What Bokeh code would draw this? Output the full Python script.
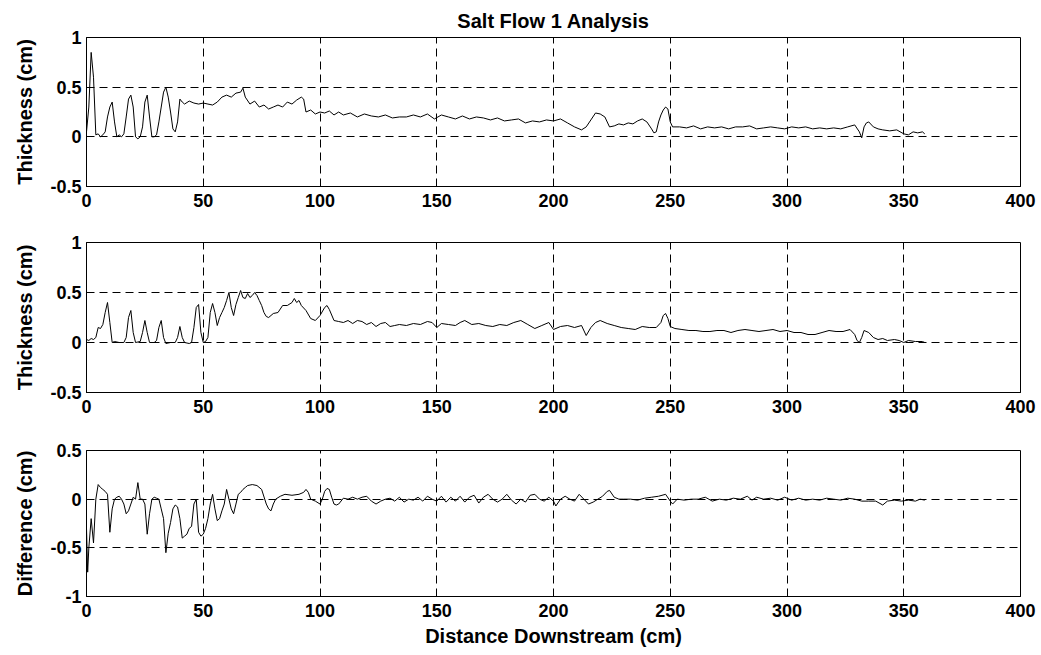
from bokeh.plotting import figure
from bokeh.models import Range1d, FixedTicker, CustomJSTickFormatter
from bokeh.layouts import column
from bokeh.embed import file_html
from bokeh.resources import INLINE

# ---------------- data ----------------
x_ticks = [0, 50, 100, 150, 200, 250, 300, 350, 400]
thick_ticks = [-0.5, 0, 0.5, 1]
diff_ticks = [-1, -0.5, 0, 0.5]

# top panel: thickness (cm) vs distance downstream (cm)
thick1_pts = [
    (0, 0.05), (1, 0.3), (2, 0.85), (3, 0.6), (4, 0.02), (5, 0.03), (6, 0.0), (7, 0.02), (8, 0.05),
    (9, 0.2), (10, 0.3), (11, 0.35), (12, 0.15), (13, 0.0), (14, 0.02), (15, 0.0), (16, 0.03),
    (17, 0.2), (18, 0.38), (19, 0.42), (20, 0.3), (21, 0.0), (22, -0.02), (23, 0.0), (24, 0.1),
    (25, 0.35), (26, 0.42), (27, 0.2), (28, 0.0), (29, 0.0), (30, 0.02), (31, 0.15), (32, 0.3),
    (33, 0.45), (34, 0.5), (35, 0.4), (36, 0.25), (37, 0.08), (38, 0.05), (39, 0.15), (40, 0.38),
    (41, 0.35), (42, 0.33), (44, 0.36), (46, 0.34), (48, 0.33), (50, 0.34), (52, 0.33), (54, 0.32),
    (56, 0.35), (58, 0.4), (60, 0.42), (62, 0.4), (64, 0.44), (66, 0.45), (67, 0.49), (68, 0.4),
    (70, 0.33), (72, 0.36), (74, 0.3), (76, 0.32), (78, 0.28), (80, 0.3), (82, 0.32), (84, 0.3),
    (86, 0.35), (88, 0.33), (90, 0.37), (92, 0.4), (93, 0.38), (94, 0.25), (96, 0.27), (98, 0.23),
    (100, 0.25), (102, 0.24), (104, 0.26), (106, 0.22), (108, 0.25), (110, 0.22), (113, 0.24),
    (116, 0.2), (119, 0.23), (122, 0.21), (125, 0.2), (128, 0.22), (131, 0.19), (134, 0.2),
    (137, 0.2), (140, 0.22), (143, 0.2), (146, 0.23), (149, 0.18), (152, 0.22), (155, 0.2),
    (158, 0.18), (161, 0.21), (164, 0.18), (167, 0.2), (170, 0.19), (173, 0.17), (176, 0.19),
    (179, 0.16), (182, 0.17), (185, 0.18), (188, 0.14), (191, 0.16), (194, 0.15), (197, 0.17),
    (200, 0.16), (203, 0.18), (206, 0.14), (209, 0.1), (212, 0.07), (214, 0.1), (216, 0.17),
    (218, 0.24), (220, 0.23), (222, 0.2), (224, 0.1), (226, 0.11), (228, 0.13), (230, 0.12),
    (232, 0.14), (234, 0.13), (236, 0.16), (238, 0.18), (240, 0.15), (242, 0.08), (243, 0.04),
    (244, 0.05), (245, 0.15), (246, 0.22), (247, 0.27), (248, 0.3), (249, 0.28), (250, 0.15),
    (251, 0.1), (254, 0.1), (257, 0.09), (260, 0.11), (263, 0.08), (266, 0.1), (269, 0.09),
    (272, 0.1), (275, 0.08), (278, 0.1), (281, 0.1), (284, 0.11), (287, 0.08), (290, 0.09),
    (293, 0.1), (296, 0.09), (299, 0.08), (302, 0.1), (305, 0.09), (308, 0.1), (311, 0.08),
    (314, 0.09), (317, 0.08), (320, 0.09), (323, 0.08), (326, 0.1), (329, 0.12), (331, 0.05),
    (332, -0.01), (333, 0.1), (334, 0.14), (335, 0.15), (337, 0.1), (339, 0.08), (341, 0.07),
    (344, 0.06), (347, 0.07), (350, 0.03), (352, 0.02), (354, 0.05), (356, 0.04), (358, 0.05),
    (359, 0.03),
]

# middle panel: thickness (cm)
thick2_pts = [
    (0, 0.03), (1, 0.02), (2, 0.04), (3, 0.03), (4, 0.05), (5, 0.15), (6, 0.14), (7, 0.18), (8, 0.3),
    (9, 0.4), (10, 0.2), (11, 0.0), (12, 0.01), (14, 0.0), (16, 0.0), (17, 0.05), (18, 0.25),
    (19, 0.32), (20, 0.1), (21, 0.0), (23, 0.01), (24, 0.1), (25, 0.22), (26, 0.1), (27, 0.0),
    (29, 0.0), (30, 0.02), (31, 0.15), (32, 0.22), (33, 0.05), (34, -0.01), (36, 0.0), (38, 0.0),
    (39, 0.05), (40, 0.16), (41, 0.05), (42, 0.0), (44, -0.01), (45, 0.0), (46, 0.15), (47, 0.35),
    (48, 0.38), (49, 0.1), (50, 0.0), (51, 0.01), (52, 0.05), (53, 0.3), (54, 0.39), (55, 0.3),
    (56, 0.17), (57, 0.25), (58, 0.3), (59, 0.35), (60, 0.42), (61, 0.5), (62, 0.35), (63, 0.27),
    (64, 0.38), (65, 0.45), (66, 0.52), (67, 0.45), (68, 0.44), (69, 0.49), (70, 0.45), (71, 0.47),
    (72, 0.5), (73, 0.47), (74, 0.42), (75, 0.37), (76, 0.3), (77, 0.26), (78, 0.25), (80, 0.29),
    (82, 0.3), (84, 0.37), (86, 0.37), (88, 0.4), (89, 0.44), (90, 0.4), (91, 0.42), (92, 0.37),
    (94, 0.32), (96, 0.24), (98, 0.22), (100, 0.27), (102, 0.35), (103, 0.37), (104, 0.33),
    (106, 0.22), (108, 0.21), (110, 0.2), (112, 0.22), (114, 0.19), (116, 0.22), (118, 0.21),
    (120, 0.18), (122, 0.2), (124, 0.16), (126, 0.19), (128, 0.2), (130, 0.16), (132, 0.17),
    (134, 0.18), (137, 0.17), (140, 0.19), (143, 0.18), (146, 0.21), (148, 0.2), (150, 0.15),
    (152, 0.19), (155, 0.18), (158, 0.17), (160, 0.2), (162, 0.22), (165, 0.18), (168, 0.19),
    (171, 0.17), (174, 0.16), (177, 0.18), (180, 0.17), (183, 0.2), (186, 0.22), (189, 0.18),
    (192, 0.14), (195, 0.17), (198, 0.2), (200, 0.13), (203, 0.16), (206, 0.17), (209, 0.15),
    (212, 0.17), (214, 0.07), (216, 0.15), (218, 0.2), (220, 0.22), (223, 0.19), (226, 0.17),
    (229, 0.15), (232, 0.14), (235, 0.13), (238, 0.16), (241, 0.15), (244, 0.15), (246, 0.2),
    (247, 0.27), (248, 0.29), (249, 0.24), (250, 0.16), (252, 0.14), (255, 0.13), (258, 0.12),
    (261, 0.12), (264, 0.11), (267, 0.11), (270, 0.12), (273, 0.12), (276, 0.1), (279, 0.12),
    (282, 0.13), (285, 0.12), (288, 0.11), (291, 0.12), (294, 0.13), (297, 0.11), (300, 0.12),
    (303, 0.1), (306, 0.1), (309, 0.08), (312, 0.08), (315, 0.1), (318, 0.12), (321, 0.11),
    (324, 0.11), (327, 0.13), (329, 0.08), (330, 0.02), (331, 0.0), (332, 0.05), (333, 0.12),
    (335, 0.1), (337, 0.05), (339, 0.03), (341, 0.04), (343, 0.02), (346, 0.03), (348, 0.02),
    (350, 0.0), (352, 0.02), (355, 0.01), (358, 0.01), (359, 0.0),
]

# bottom panel: difference (cm)
diff_pts = [
    (0, -0.3), (0.5, -0.75), (1, -0.5), (2, -0.2), (3, -0.45), (4, 0.0), (5, 0.15), (6, 0.12),
    (7, 0.1), (8, 0.08), (9, 0.05), (10, -0.34), (11, -0.1), (12, 0.0), (13, 0.02), (14, 0.03),
    (15, 0.0), (16, -0.05), (17, -0.15), (18, -0.12), (19, -0.05), (20, 0.02), (21, 0.0), (22, 0.17),
    (23, 0.0), (24, 0.0), (25, -0.05), (26, -0.36), (27, -0.15), (28, 0.0), (29, 0.02), (30, 0.01),
    (31, 0.0), (32, -0.1), (33, -0.2), (34, -0.55), (35, -0.35), (36, -0.24), (37, -0.1),
    (38, -0.06), (39, -0.08), (40, -0.2), (41, -0.4), (42, -0.38), (43, -0.36), (44, -0.3),
    (45, -0.28), (46, -0.05), (47, 0.0), (48, -0.34), (49, -0.38), (50, -0.36), (51, -0.3),
    (52, -0.2), (53, -0.05), (54, 0.05), (55, -0.1), (56, -0.22), (57, -0.2), (58, -0.12),
    (59, -0.05), (60, 0.1), (61, 0.0), (62, -0.1), (63, -0.15), (64, -0.05), (65, 0.05), (66, 0.07),
    (67, 0.1), (68, 0.12), (69, 0.14), (71, 0.15), (73, 0.14), (75, 0.1), (77, -0.05), (78, -0.1),
    (79, -0.12), (80, -0.05), (81, 0.0), (83, 0.03), (85, 0.05), (88, 0.04), (91, 0.05), (93, 0.07),
    (94, 0.1), (95, 0.07), (96, 0.0), (98, -0.02), (100, -0.05), (101, 0.0), (102, 0.08),
    (103, 0.11), (104, 0.1), (105, 0.02), (106, -0.05), (107, -0.06), (108, -0.05), (110, 0.01),
    (112, 0.0), (114, 0.02), (116, 0.0), (118, 0.02), (120, 0.03), (122, -0.02), (124, -0.05),
    (126, -0.02), (128, 0.0), (130, 0.01), (132, -0.02), (134, 0.02), (136, -0.03), (138, 0.0),
    (140, -0.01), (142, 0.02), (144, -0.02), (146, 0.03), (148, 0.0), (150, -0.02), (152, 0.03),
    (154, -0.03), (156, 0.02), (158, -0.02), (160, 0.03), (162, -0.03), (164, 0.02), (166, 0.04),
    (168, -0.04), (170, 0.02), (172, 0.05), (174, 0.0), (176, -0.03), (178, 0.0), (180, 0.05),
    (182, -0.01), (184, -0.05), (186, 0.0), (188, -0.03), (190, 0.04), (192, 0.05), (194, 0.0),
    (196, -0.02), (198, 0.02), (200, -0.02), (201, -0.07), (203, 0.0), (205, 0.03), (207, 0.0),
    (209, -0.02), (211, 0.05), (213, 0.0), (215, -0.05), (217, -0.03), (219, 0.0), (221, 0.03),
    (223, 0.08), (224, 0.09), (226, 0.02), (228, 0.0), (230, 0.0), (233, 0.0), (236, -0.01),
    (239, 0.01), (242, 0.02), (245, 0.03), (248, 0.05), (250, -0.02), (251, -0.05), (253, 0.0),
    (256, -0.01), (259, 0.0), (262, 0.0), (265, 0.02), (268, -0.02), (271, 0.0), (274, -0.01),
    (277, 0.01), (280, 0.0), (283, 0.03), (285, -0.01), (287, 0.02), (290, 0.0), (293, 0.01),
    (296, -0.01), (299, 0.02), (302, -0.01), (305, 0.01), (308, -0.01), (311, 0.0), (314, -0.01),
    (317, 0.01), (320, 0.0), (323, -0.01), (326, 0.01), (329, 0.0), (332, -0.02), (335, -0.02),
    (338, -0.02), (341, -0.06), (343, -0.02), (346, -0.01), (349, -0.02), (352, -0.01),
    (355, -0.02), (357, 0.0), (359, -0.01),
]

title_text = "Salt Flow 1 Analysis"
x_label = "Distance Downstream (cm)"
y_labels = ["Thickness (cm)", "Thickness (cm)", "Difference (cm)"]

# ---------------- styling ----------------
FONT = "Liberation Sans"


def make_panel(pts, yr, yticks, ylabel, height, top, bottom, xlabel=None, title=None):
    p = figure(width=1041, height=height, x_range=Range1d(0, 400), y_range=Range1d(*yr),
               output_backend="svg", toolbar_location=None,
               min_border_left=86, min_border_right=21,
               min_border_top=top, min_border_bottom=bottom)
    p.background_fill_color = "white"
    p.border_fill_color = "white"
    p.outline_line_color = "black"
    p.outline_line_width = 1
    p.outline_line_alpha = 1

    xs = [a for a, b in pts]
    ys = [b for a, b in pts]
    p.line(xs, ys, line_color="black", line_width=1)

    p.xaxis.ticker = FixedTicker(ticks=x_ticks)
    p.yaxis.ticker = FixedTicker(ticks=yticks)
    p.xaxis.formatter = CustomJSTickFormatter(code="return String(tick);")
    p.yaxis.formatter = CustomJSTickFormatter(code="return String(tick);")

    for ax in (p.xaxis[0], p.yaxis[0]):
        ax.axis_line_color = "black"
        ax.major_tick_in = 4
        ax.major_tick_out = 0
        ax.minor_tick_line_color = None
        ax.major_tick_line_color = "black"
        ax.major_label_text_font = FONT
        ax.major_label_text_font_style = "bold"
        ax.major_label_text_font_size = "18px"
        ax.major_label_text_color = "black"
        ax.axis_label_text_font = FONT
        ax.axis_label_text_font_style = "bold"
        ax.axis_label_text_font_size = "20px"
        ax.axis_label_text_color = "black"
    p.xaxis.major_label_standoff = 7
    p.yaxis.major_label_standoff = 5
    p.yaxis.axis_label = ylabel
    p.yaxis.axis_label_standoff = 11
    if xlabel:
        p.xaxis.axis_label = xlabel
        p.xaxis.axis_label_standoff = 5

    for g in (p.xgrid[0], p.ygrid[0]):
        g.grid_line_color = "black"
        g.grid_line_width = 1
        g.grid_line_alpha = 1
        g.grid_line_dash = "8 5"

    if title:
        p.title.text = title
        p.title.align = "center"
        p.title.text_font = FONT
        p.title.text_font_style = "bold"
        p.title.text_font_size = "20px"
        p.title.text_color = "black"
        p.title.standoff = 12
    return p


p1 = make_panel(thick1_pts, (-0.5, 1), thick_ticks, y_labels[0], 218, 37, 32, title=title_text)
p2 = make_panel(thick2_pts, (-0.5, 1), thick_ticks, y_labels[1], 206, 24, 32)
p3 = make_panel(diff_pts, (-1, 0.5), diff_ticks, y_labels[2], 231, 26, 59, xlabel=x_label)

layout = column(p1, p2, p3, spacing=0)
layout.styles = {"background-color": "white"}

open("out.html", "w").write(file_html(layout, INLINE))
